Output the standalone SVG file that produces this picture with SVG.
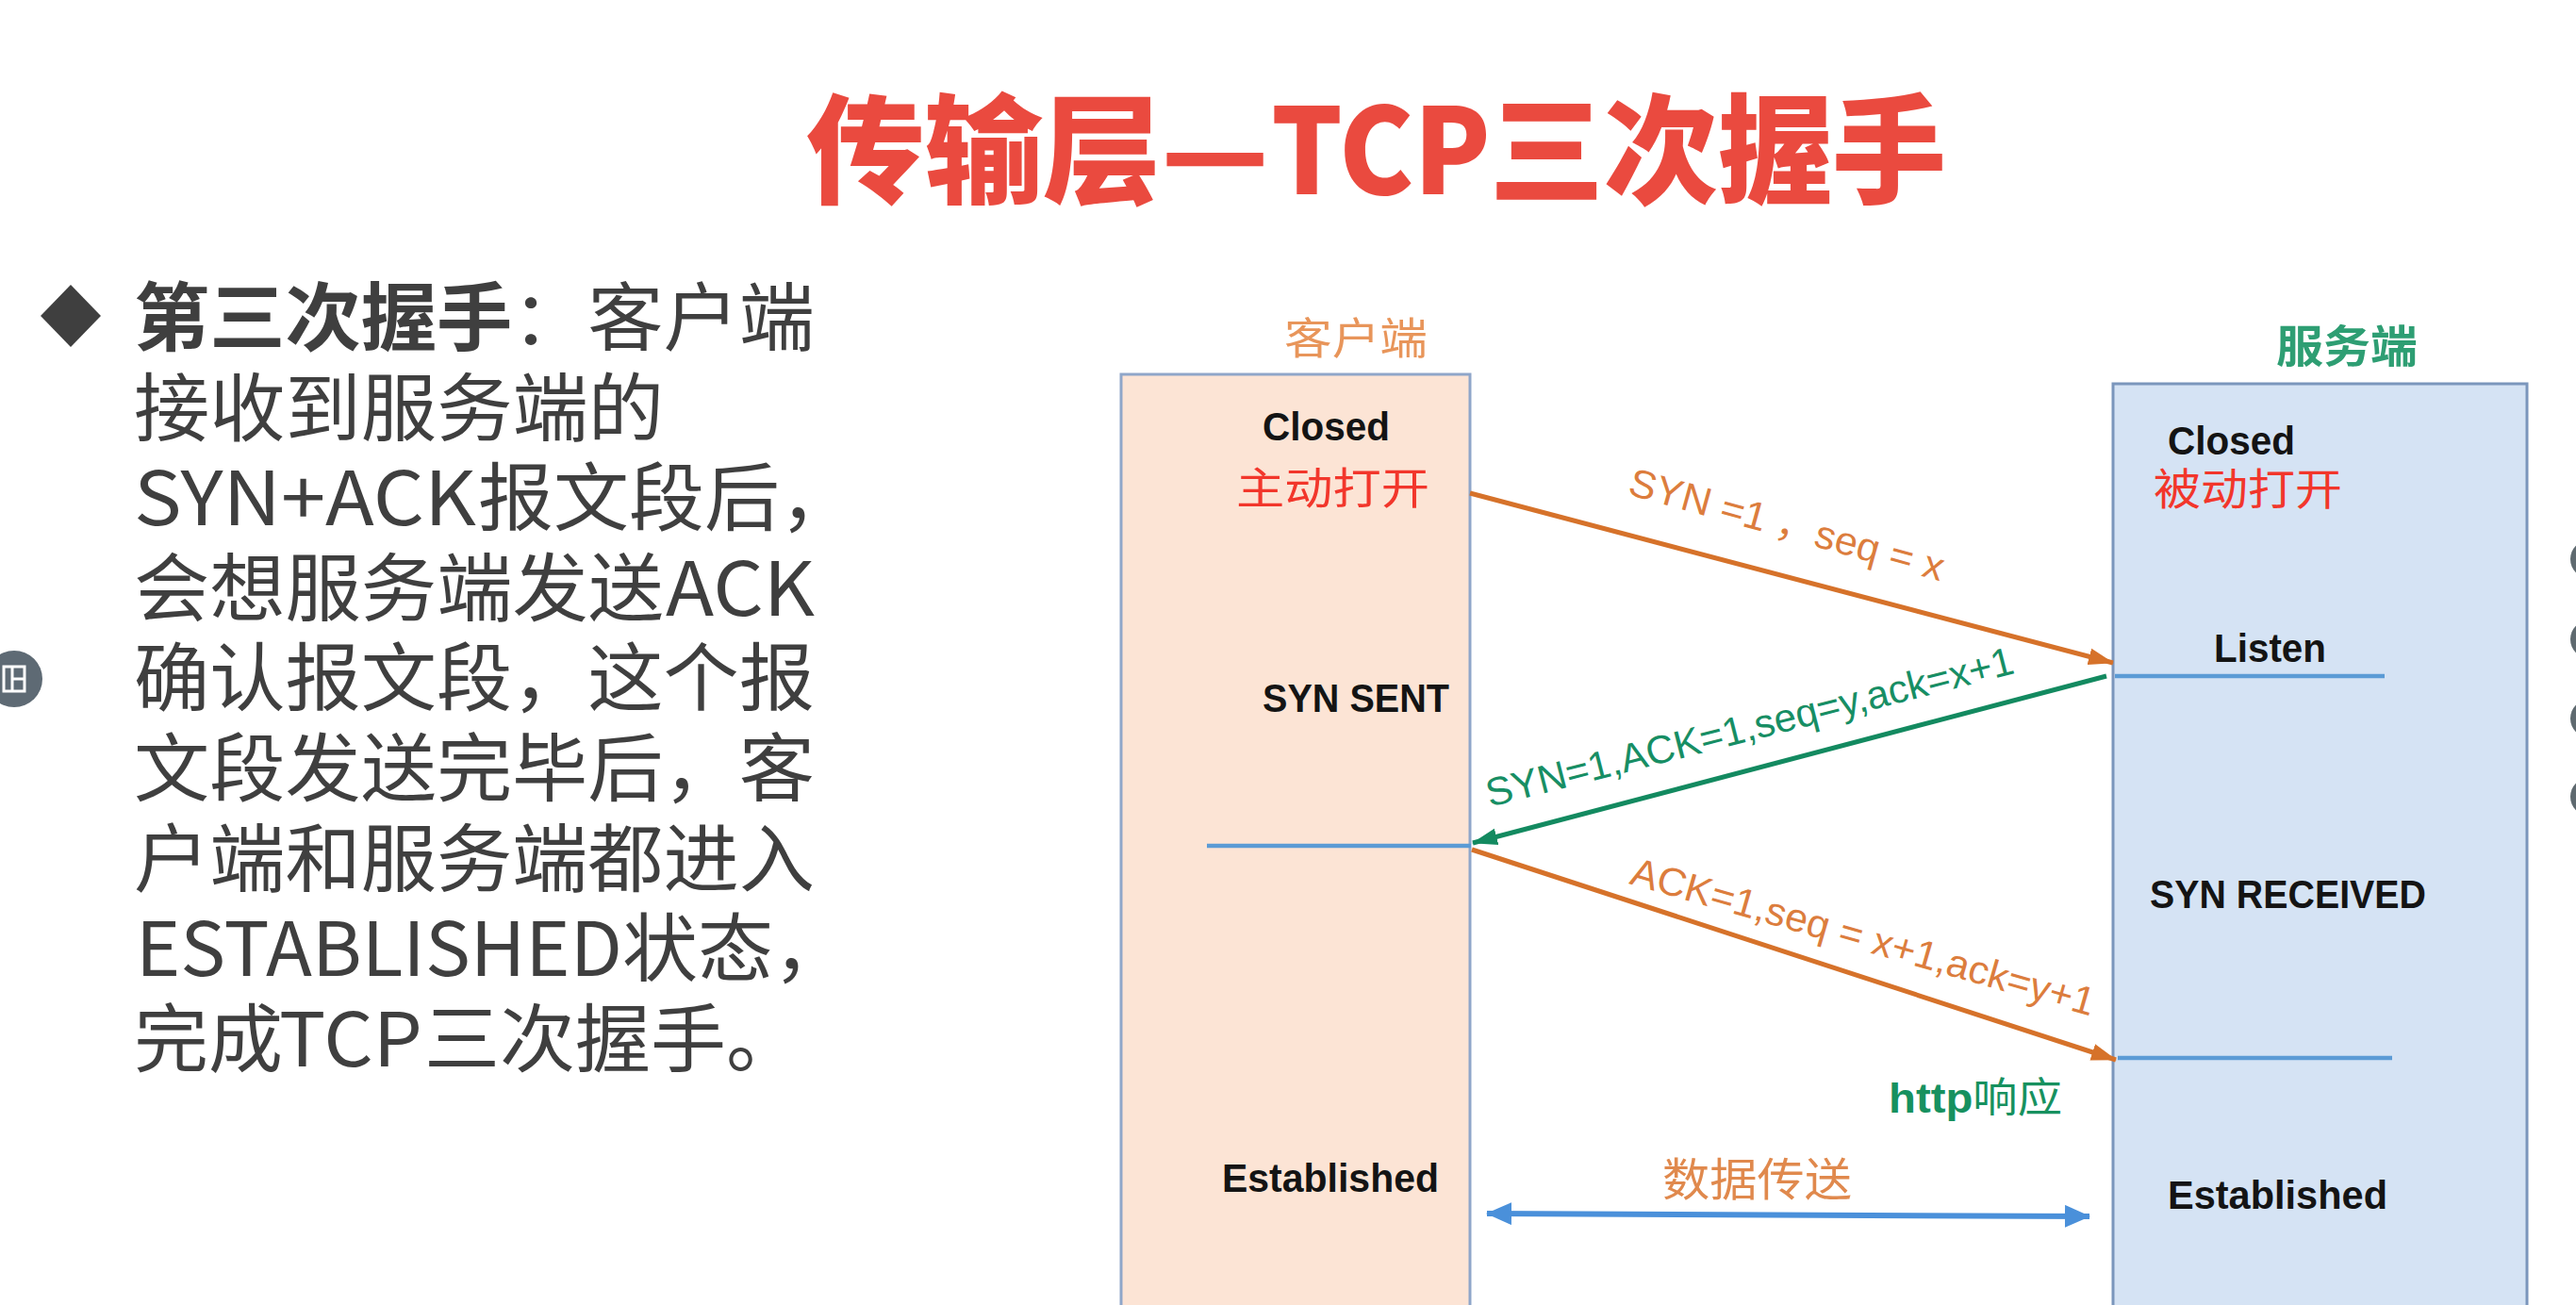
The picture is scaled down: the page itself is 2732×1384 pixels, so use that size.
<svg xmlns="http://www.w3.org/2000/svg" width="2732" height="1384" viewBox="0 0 2732 1384">
  <style>
    .cjk { font-family: 'Noto Sans CJK SC', 'Noto Sans', sans-serif; }
    .body { font-family: 'Noto Sans CJK SC', sans-serif; font-size: 79px; fill: #3f3f3f; }
    .title { font-family: 'Noto Sans CJK SC', sans-serif; font-size: 126px; font-weight: 900; fill: #EA4A3F; }
    .state { font-family: 'Liberation Sans', Arial, sans-serif; font-size: 42px; font-weight: 700; fill: #141414; }
    .open { font-family: 'Noto Sans CJK SC', sans-serif; font-size: 46px; fill: #F2362B; }
    .lbl { font-family: 'Liberation Sans', 'Noto Sans CJK SC', sans-serif; font-size: 42px; }
    .box-client { fill: #FCE4D5; stroke: #8FA6C9; stroke-width: 3; }
    .box-server { fill: #D5E3F4; stroke: #7B96BC; stroke-width: 3; }
    .tick { stroke: #5B9BD5; stroke-width: 4.5; fill: none; }
    .msg-o { stroke: #D6722A; stroke-width: 5; fill: none; }
    .msg-g { stroke: #138A60; stroke-width: 5; fill: none; }
    .data { stroke: #4A90DA; stroke-width: 6; fill: none; }
  </style>
  <defs>
    <marker id="ah-o" markerUnits="userSpaceOnUse" markerWidth="28" markerHeight="20" refX="26" refY="10" orient="auto">
      <path d="M0,1 L27,10 L0,19 z" fill="#D6722A"/>
    </marker>
    <marker id="ah-g" markerUnits="userSpaceOnUse" markerWidth="28" markerHeight="20" refX="26" refY="10" orient="auto">
      <path d="M0,1 L27,10 L0,19 z" fill="#138A60"/>
    </marker>
    <marker id="ah-b" markerUnits="userSpaceOnUse" markerWidth="28" markerHeight="24" refX="26" refY="12" orient="auto-start-reverse">
      <path d="M0,0 L27,12 L0,24 z" fill="#4A90DA"/>
    </marker>
  </defs>

  <rect width="2732" height="1384" fill="#ffffff"/>

  <!-- heading -->
  <g id="title" class="title">
    <text x="855" y="206" textLength="491" lengthAdjust="spacingAndGlyphs">传输层—</text>
    <text x="1348" y="206" textLength="233" lengthAdjust="spacingAndGlyphs">TCP</text>
    <text x="1580" y="206" textLength="484" lengthAdjust="spacingAndGlyphs">三次握手</text>
  </g>

  <!-- explanation text -->
  <g id="explanation" class="body">
    <path d="M43,335 L75,302 L107,335 L75,368 z" fill="#3f3f3f"/>
    <text x="142" y="366" textLength="722" lengthAdjust="spacingAndGlyphs"><tspan font-weight="700">第三次握手</tspan>：客户端</text>
    <text x="142" y="462" textLength="562" lengthAdjust="spacingAndGlyphs">接收到服务端的</text>
    <text x="142" y="557" textLength="363" lengthAdjust="spacingAndGlyphs">SYN+ACK</text>
    <text x="507" y="557" textLength="400" lengthAdjust="spacingAndGlyphs">报文段后，</text>
    <text x="142" y="653" textLength="562" lengthAdjust="spacingAndGlyphs">会想服务端发送</text>
    <text x="706" y="653" textLength="158" lengthAdjust="spacingAndGlyphs">ACK</text>
    <text x="142" y="748" textLength="722" lengthAdjust="spacingAndGlyphs">确认报文段，这个报</text>
    <text x="142" y="844" textLength="722" lengthAdjust="spacingAndGlyphs">文段发送完毕后，客</text>
    <text x="142" y="940" textLength="722" lengthAdjust="spacingAndGlyphs">户端和服务端都进入</text>
    <text x="144" y="1035" textLength="516" lengthAdjust="spacingAndGlyphs">ESTABLISHED</text>
    <text x="660" y="1035" textLength="240" lengthAdjust="spacingAndGlyphs">状态，</text>
    <text x="142" y="1131" textLength="158" lengthAdjust="spacingAndGlyphs">完成</text>
    <text x="296" y="1131" textLength="152" lengthAdjust="spacingAndGlyphs">TCP</text>
    <text x="450" y="1131" textLength="400" lengthAdjust="spacingAndGlyphs">三次握手。</text>
  </g>

  <!-- client side -->
  <g id="client">
    <text class="cjk" x="1362" y="375" font-size="46" fill="#E8955A" textLength="152" lengthAdjust="spacingAndGlyphs">客户端</text>
    <rect class="box-client" x="1189" y="397" width="370" height="1010"/>
    <text class="state" x="1339" y="467" textLength="135" lengthAdjust="spacingAndGlyphs">Closed</text>
    <text class="open" x="1311" y="534" textLength="205" lengthAdjust="spacingAndGlyphs">主动打开</text>
    <text class="state" x="1339" y="755" textLength="198" lengthAdjust="spacingAndGlyphs">SYN SENT</text>
    <text class="state" x="1296" y="1264" textLength="230" lengthAdjust="spacingAndGlyphs">Established</text>
  </g>

  <!-- server side -->
  <g id="server">
    <text class="cjk" x="2414" y="384" font-size="47" font-weight="700" fill="#2E9E73" textLength="150" lengthAdjust="spacingAndGlyphs">服务端</text>
    <rect class="box-server" x="2241" y="407" width="439" height="1000"/>
    <text class="state" x="2299" y="482" textLength="135" lengthAdjust="spacingAndGlyphs">Closed</text>
    <text class="open" x="2284" y="535" textLength="200" lengthAdjust="spacingAndGlyphs">被动打开</text>
    <text class="state" x="2348" y="702" textLength="119" lengthAdjust="spacingAndGlyphs">Listen</text>
    <text class="state" x="2280" y="963" textLength="293" lengthAdjust="spacingAndGlyphs">SYN RECEIVED</text>
    <text class="state" x="2299" y="1282" textLength="233" lengthAdjust="spacingAndGlyphs">Established</text>
  </g>

  <!-- state change ticks, segments and their labels -->
  <g id="connectors">
    <line class="tick" x1="1280" y1="897" x2="1560" y2="897"/>
    <line class="tick" x1="2243" y1="717" x2="2529" y2="717"/>
    <line class="tick" x1="2246" y1="1122" x2="2537" y2="1122"/>

    <line class="msg-o" x1="1559" y1="523" x2="2241" y2="703" marker-end="url(#ah-o)"/>
    <line class="msg-g" x1="2234" y1="717" x2="1562" y2="894" marker-end="url(#ah-g)"/>
    <line class="msg-o" x1="1561" y1="901" x2="2244" y2="1124" marker-end="url(#ah-o)"/>
    <line class="data" x1="1577" y1="1287" x2="2216" y2="1290" marker-start="url(#ah-b)" marker-end="url(#ah-b)"/>

    <text class="lbl" fill="#DC7D3D" transform="translate(1725,524) rotate(15.5)" textLength="345" lengthAdjust="spacingAndGlyphs">SYN =1 ，seq = x</text>
    <text class="lbl" fill="#178E64" transform="translate(1580,856) rotate(-14.3)" textLength="576" lengthAdjust="spacingAndGlyphs">SYN=1,ACK=1,seq=y,ack=x+1</text>
    <text class="lbl" fill="#DC7D3D" transform="translate(1727,937) rotate(16)" textLength="510" lengthAdjust="spacingAndGlyphs">ACK=1,seq = x+1,ack=y+1</text>
    <text x="2003" y="1180" font-size="44" fill="#17915F" textLength="184" lengthAdjust="spacingAndGlyphs"><tspan font-family="'Liberation Sans', sans-serif" font-weight="700">http</tspan><tspan font-family="'Noto Sans CJK SC', sans-serif">响应</tspan></text>
    <text class="cjk" x="1763" y="1268" font-size="48" fill="#E0894D" textLength="201" lengthAdjust="spacingAndGlyphs">数据传送</text>
  </g>

  <!-- player controls at the edges -->
  <g id="edge-controls">
    <circle cx="15" cy="720" r="30" fill="#5E6A74"/>
    <rect x="4" y="707" width="22" height="26" fill="none" stroke="#ffffff" stroke-width="3"/>
    <line x1="13" y1="707" x2="13" y2="733" stroke="#ffffff" stroke-width="3"/>
    <line x1="13" y1="720" x2="26" y2="720" stroke="#ffffff" stroke-width="3"/>
    <circle cx="2746" cy="593" r="20" fill="#5F6A70"/>
    <circle cx="2746" cy="678" r="20" fill="#5F6A70"/>
    <circle cx="2746" cy="762" r="20" fill="#5F6A70"/>
    <circle cx="2746" cy="845" r="20" fill="#5F6A70"/>
  </g>
</svg>
